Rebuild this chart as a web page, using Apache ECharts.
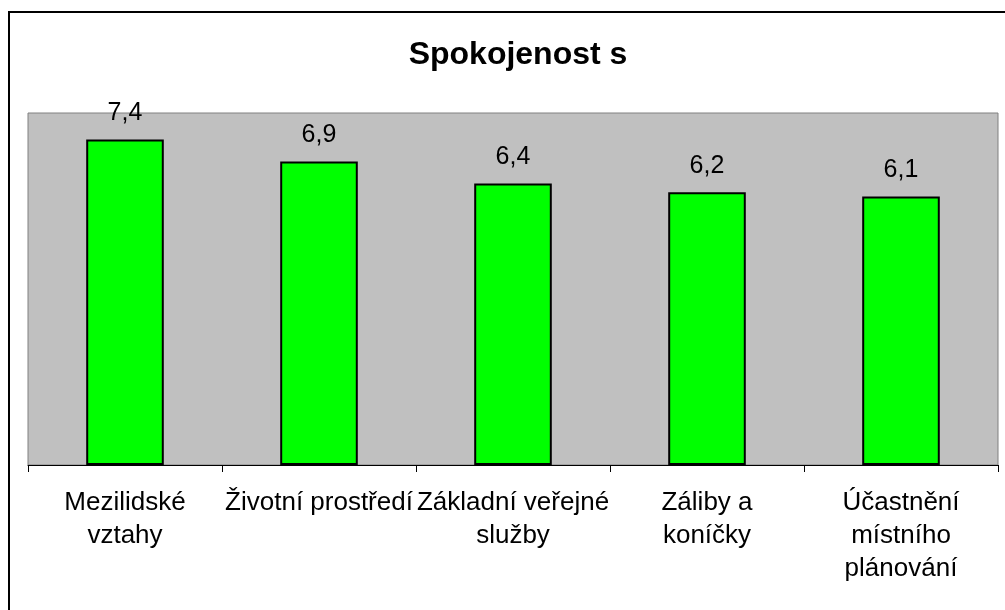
<!DOCTYPE html>
<html>
<head>
<meta charset="utf-8">
<script src="https://cdn.jsdelivr.net/npm/echarts@6/dist/echarts.min.js"></script>
<style>
  html, body { margin: 0; padding: 0; background: #fff; }
  #chart { width: 1005px; height: 610px; }
</style>
</head>
<body>
<div id="chart"></div>
<script>
var categories = ['Mezilidské\nvztahy', 'Životní prostředí', 'Základní veřejné\nslužby', 'Záliby a\nkoníčky', 'Účastnění\nmístního\nplánování'];
var values = [7.4, 6.9, 6.4, 6.2, 6.1];
var chartTitle = 'Spokojenost s';

var font = '"Liberation Sans", Arial, sans-serif';
var chart = echarts.init(document.getElementById('chart'));

var option = {
  animation: false,
  backgroundColor: '#fff',
  title: {
    text: chartTitle,
    left: 513,
    textAlign: 'center',
    top: 34,
    textStyle: { fontFamily: font, fontSize: 32, fontWeight: 'bold', color: '#000' }
  },
  graphic: [{
    type: 'rect',
    shape: { x: 9, y: 12, width: 1100, height: 1000 },
    style: { fill: 'none', stroke: '#000', lineWidth: 2 },
    silent: true
  }],
  grid: {
    left: 28,
    right: 7,
    top: 113,
    bottom: 145,
    show: true,
    backgroundColor: '#C0C0C0',
    borderColor: '#808080',
    borderWidth: 1
  },
  xAxis: {
    type: 'category',
    data: categories,
    axisLine: { lineStyle: { color: '#000', width: 1 } },
    axisTick: { show: true, length: 7, lineStyle: { color: '#000' } },
    axisLabel: {
      interval: 0,
      margin: 21,
      color: '#000',
      fontFamily: font,
      fontSize: 26,
      lineHeight: 33
    }
  },
  yAxis: {
    type: 'value',
    min: 0,
    max: 8,
    show: false,
    splitLine: { show: false }
  },
  series: [{
    type: 'bar',
    data: values,
    barWidth: '40%',
    itemStyle: { color: '#00FF00', borderColor: '#000', borderWidth: 2 },
    label: {
      show: true,
      position: 'top',
      distance: 14,
      color: '#000',
      fontFamily: font,
      fontSize: 25,
      formatter: function (p) { return String(p.value).replace('.', ','); }
    }
  }]
};

chart.setOption(option);
</script>
</body>
</html>
